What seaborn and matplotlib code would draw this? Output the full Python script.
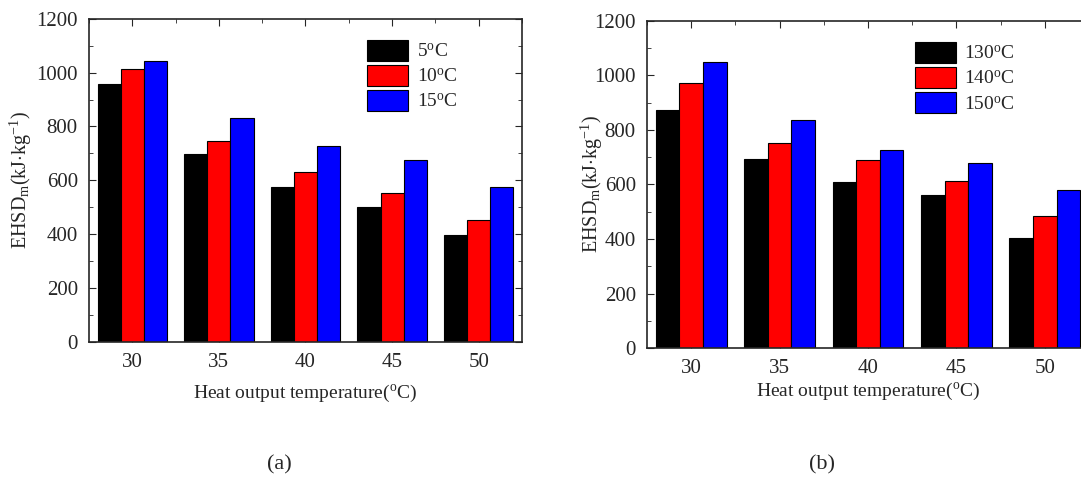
import matplotlib
matplotlib.use("Agg")
import matplotlib.pyplot as plt
import numpy as np
import pandas as pd
import seaborn as sns

# heat output temperature categories
temps = ["30", "35", "40", "45", "50"]

# panel (a): series by 5/10/15 degC
labels_a = ["5$^\\mathrm{o}$C", "10$^\\mathrm{o}$C", "15$^\\mathrm{o}$C"]
a_5 = [959, 699, 575, 499, 397]
a_10 = [1012, 747, 632, 554, 454]
a_15 = [1044, 833, 726, 677, 575]

# panel (b): series by 130/140/150 degC
labels_b = ["130$^\\mathrm{o}$C", "140$^\\mathrm{o}$C", "150$^\\mathrm{o}$C"]
b_130 = [873, 694, 610, 562, 404]
b_140 = [970, 752, 690, 612, 485]
b_150 = [1048, 835, 727, 679, 579]

colors = ["#000000", "#ff0000", "#0000ff"]

sns.set_style("ticks")
plt.rcParams["font.family"] = ["Liberation Serif", "DejaVu Serif"]
plt.rcParams["mathtext.fontset"] = "custom"
plt.rcParams["mathtext.rm"] = "Liberation Serif"
plt.rcParams["mathtext.it"] = "Liberation Serif:italic"
plt.rcParams["font.size"] = 15


def long_df(series, labels):
    rows = []
    for lab, vals in zip(labels, series):
        for t, v in zip(temps, vals):
            rows.append({"temp": t, "group": lab, "val": v})
    return pd.DataFrame(rows)


def draw(ax, df, labels, leg_anchor, ypad, xpad):
    sns.barplot(data=df, x="temp", y="val", hue="group", hue_order=labels,
                order=temps, palette=colors, ax=ax, edgecolor="black",
                linewidth=0.8, saturation=1, width=0.8)
    ax.set_xlim(-0.5, 4.5)
    ax.set_ylim(0, 1200)
    ax.set_yticks(np.arange(0, 1201, 200))
    ax.set_yticks(np.arange(0, 1201, 100), minor=True)
    ax.set_xticks(np.arange(-0.5, 4.6, 0.5), minor=True)
    ax.tick_params(which="major", direction="in", top=True, right=True,
                   length=5, width=0.8, labelsize=15, pad=8)
    ax.tick_params(which="minor", direction="in", top=True, right=True,
                   bottom=False, length=3, width=0.6)
    ax.tick_params(axis="x", which="minor", top=True, bottom=False, length=3)
    for s in ax.spines.values():
        s.set_linewidth(1.2)
    ax.set_xlabel("Heat output temperature($^\\mathrm{o}$C)", fontsize=14, labelpad=xpad)
    ax.set_ylabel("EHSD$_\\mathrm{m}$(kJ$\\cdot$kg$^{-1}$)", fontsize=14.5, labelpad=ypad)
    ax.legend(loc="upper left", bbox_to_anchor=leg_anchor, frameon=False,
              handlelength=2.1, handleheight=1.3, labelspacing=0.2,
              handletextpad=0.45, borderpad=0, borderaxespad=0, fontsize=14)


fig = plt.figure(figsize=(10.81, 4.88), dpi=100)
ax1 = fig.add_axes([0.0823, 0.300, 0.4006, 0.6613])
ax2 = fig.add_axes([0.5985, 0.2863, 0.4089, 0.6713])

draw(ax1, long_df([a_5, a_10, a_15], labels_a), labels_a, (0.642, 0.935), 2, 8)
draw(ax2, long_df([b_130, b_140, b_150], labels_b), labels_b, (0.606, 0.935), -8, 2)

fig.text(279 / 1081, 1 - 465 / 488, "(a)", ha="center", va="center", fontsize=16)
fig.text(822 / 1081, 1 - 465 / 488, "(b)", ha="center", va="center", fontsize=16)

fig.savefig("out.png", dpi=100)
